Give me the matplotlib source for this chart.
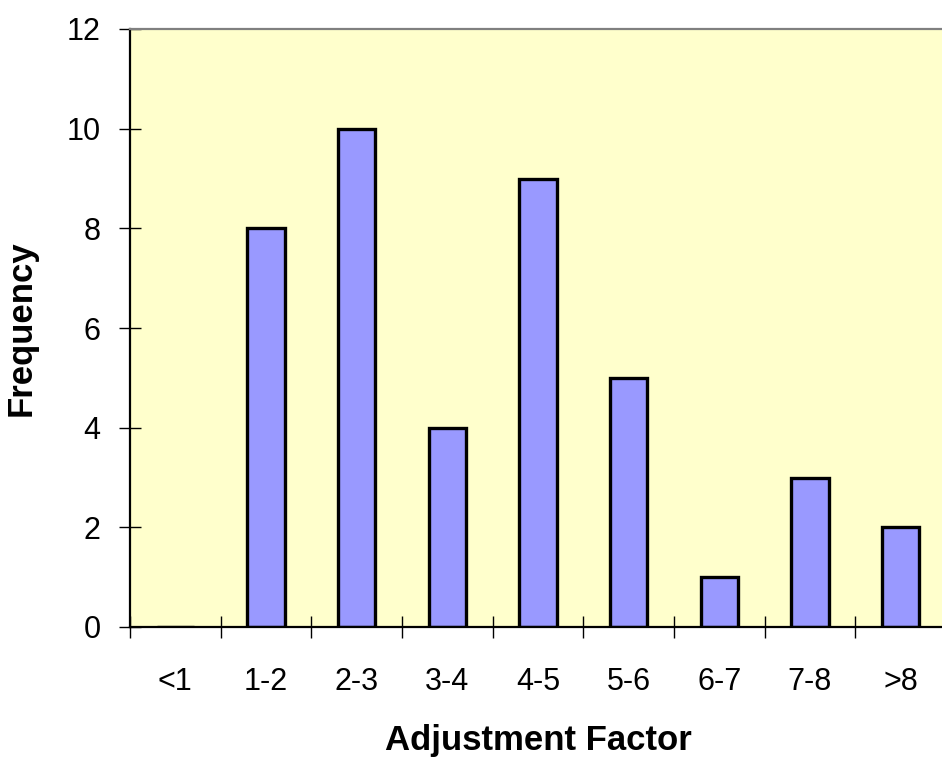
import matplotlib
matplotlib.use("Agg")
import matplotlib.pyplot as plt
import numpy as np

plt.rcParams['font.family'] = ['Liberation Sans', 'DejaVu Sans']

# histogram data
categories = ["<1", "1-2", "2-3", "3-4", "4-5", "5-6", "6-7", "7-8", ">8"]
frequency = [0, 8, 10, 4, 9, 5, 1, 3, 2]
y_ticks = [0, 2, 4, 6, 8, 10, 12]

fig = plt.figure(figsize=(9.42, 7.58), dpi=100)
# plot area runs slightly past the right edge, like the original screenshot
ax = fig.add_axes([130 / 942, 131 / 758, 816 / 942, 598 / 758])
ax.set_facecolor("#FFFFCC")

centers = np.arange(len(categories)) + 0.5
ax.bar(centers, frequency, width=0.41, color="#9999FF", edgecolor="black",
       linewidth=2.4, zorder=2)

ax.set_xlim(0, len(categories))
ax.set_ylim(0, 12)

# ticks on category boundaries, labels in the middle
ax.set_xticks(np.arange(len(categories) + 1))
ax.set_xticklabels([])
ax.set_xticks(centers, minor=True)
ax.set_xticklabels(categories, minor=True)
ax.tick_params(axis="x", which="major", direction="inout", length=16.5, width=1.0)
ax.tick_params(axis="x", which="minor", length=0, pad=29, labelsize=22)

ax.set_yticks(y_ticks)
ax.tick_params(axis="y", direction="inout", length=16.5, width=1.0, pad=13, labelsize=22)

for side in ["left", "bottom"]:
    ax.spines[side].set_linewidth(1.6)
    ax.spines[side].set_color("black")
ax.spines["top"].set_color("#808080")
ax.spines["top"].set_linewidth(1.6)
ax.spines["right"].set_visible(False)

ax.set_xlabel("Adjustment Factor", fontsize=25, fontweight="bold")
ax.xaxis.set_label_coords(0.5, -0.163)
ax.set_ylabel("Frequency", fontsize=25, fontweight="bold")
ax.yaxis.set_label_coords(-0.113, 0.5)

fig.savefig("out.png", dpi=100)
